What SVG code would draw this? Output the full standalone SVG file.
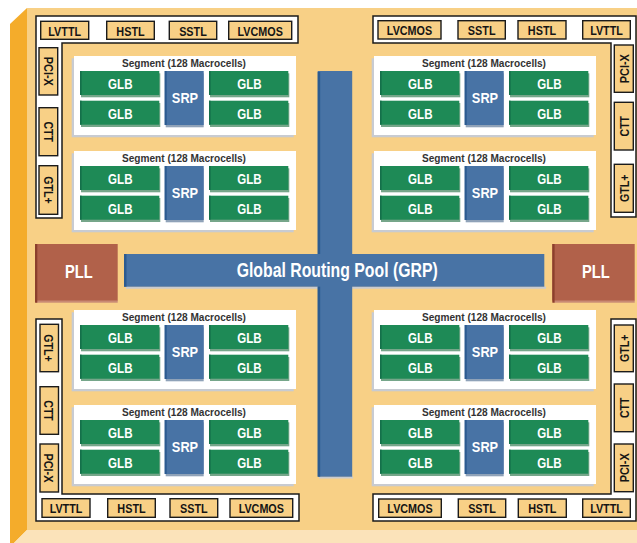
<svg xmlns="http://www.w3.org/2000/svg" xmlns:xlink="http://www.w3.org/1999/xlink" width="637" height="543" viewBox="0 0 637 543">
<style>
.face{fill:#F8D086}
.side{fill:#F4AC2B}
.bot{fill:#FBE3BA}
.io{fill:#fff;stroke:#1b1b1b;stroke-width:1.5}
.iob{fill:#F8D086;stroke:#1b1b1b;stroke-width:1.4}
text{font-family:"Liberation Sans",Arial,sans-serif;font-weight:bold;text-anchor:middle}
.iot{font-size:13.5px;fill:#151515}
.pan{fill:#fff}
.pans{fill:#C8CBD1}
.ttl{font-size:11px;fill:#333}
.glb{fill:#1E8A56}
.glbs{fill:#76A68A}
.glbe{fill:#14704A}
.srp{fill:#4873A5}
.srps{fill:#8FA2B8}
.srpe{fill:#2C5B90}
.wt{fill:#fff}
.gt{font-size:15px}
.st{font-size:15.5px}
.pll{fill:#B1614A}
.plle{fill:#8C3F2C}
.plls{fill:#C98A74}
</style>
<defs>
<g id="panShape"><rect class="pans" x="-2.3" y="2.3" width="222" height="79"/><rect class="pan" width="222" height="79"/></g>
<g id="glbShape"><rect class="glbs" x="1" y="2.3" width="79.3" height="24"/><rect class="glb" width="79.3" height="24"/><rect class="glbe" width="1.6" height="24"/></g>
<g id="srpShape"><rect class="srps" x="1" y="2.3" width="38" height="54"/><rect class="srp" width="39" height="54"/><rect class="srpe" width="2" height="54"/></g>
</defs>

<g id="chip">
<polygon class="side" points="10,24 27,8 27,530 14,543 10,543"/>
<rect class="face" x="27" y="8" width="610" height="522"/>
<polygon class="bot" points="27,530 637,530 637,543 14,543"/>
</g>

<g id="io-top-left">
<path class="io" d="M36,16 H298 V43 H62 V218 H36 Z"/>
<g id="io-tl-lvttl"><rect class="iob" x="40.7" y="21.3" width="48" height="18"/><text class="iot" x="64.7" y="35.6" textLength="32.7" lengthAdjust="spacingAndGlyphs">LVTTL</text></g>
<g id="io-tl-hstl"><rect class="iob" x="106.7" y="21.3" width="47.6" height="18"/><text class="iot" x="130.5" y="35.6" textLength="28.3" lengthAdjust="spacingAndGlyphs">HSTL</text></g>
<g id="io-tl-sstl"><rect class="iob" x="169.3" y="21.3" width="47.4" height="18"/><text class="iot" x="193" y="35.6" textLength="27.7" lengthAdjust="spacingAndGlyphs">SSTL</text></g>
<g id="io-tl-lvcmos"><rect class="iob" x="228.7" y="21.3" width="63" height="18"/><text class="iot" x="260.2" y="35.6" textLength="45.3" lengthAdjust="spacingAndGlyphs">LVCMOS</text></g>
<g id="io-tl-pcix"><rect class="iob" x="39" y="47.7" width="18.7" height="47.3"/><text class="iot" transform="translate(43.5,71.3) rotate(90)" textLength="29" lengthAdjust="spacingAndGlyphs">PCI-X</text></g>
<g id="io-tl-ctt"><rect class="iob" x="39" y="107.7" width="18.7" height="48"/><text class="iot" transform="translate(43.5,131.7) rotate(90)" textLength="20.4" lengthAdjust="spacingAndGlyphs">CTT</text></g>
<g id="io-tl-gtl"><rect class="iob" x="39" y="165.7" width="18.7" height="48.6"/><text class="iot" transform="translate(43.5,190) rotate(90)" textLength="27.5" lengthAdjust="spacingAndGlyphs">GTL+</text></g>
</g>

<g id="io-top-right">
<path class="io" d="M373,16 H636 V217 H611 V43 H373 Z"/>
<g id="io-tr-lvcmos"><rect class="iob" x="378" y="20.7" width="63" height="18.3"/><text class="iot" x="409.5" y="35.3" textLength="45.3" lengthAdjust="spacingAndGlyphs">LVCMOS</text></g>
<g id="io-tr-sstl"><rect class="iob" x="458" y="20.7" width="47.3" height="18.3"/><text class="iot" x="481.7" y="35.3" textLength="27.7" lengthAdjust="spacingAndGlyphs">SSTL</text></g>
<g id="io-tr-hstl"><rect class="iob" x="518" y="20.7" width="48" height="18.3"/><text class="iot" x="542" y="35.3" textLength="28.3" lengthAdjust="spacingAndGlyphs">HSTL</text></g>
<g id="io-tr-lvttl"><rect class="iob" x="582.7" y="20.7" width="47.6" height="18.3"/><text class="iot" x="606.5" y="35.3" textLength="32.7" lengthAdjust="spacingAndGlyphs">LVTTL</text></g>
<g id="io-tr-pcix"><rect class="iob" x="614.3" y="45" width="19" height="47.3"/><text class="iot" transform="translate(628.7,68.7) rotate(-90)" textLength="29" lengthAdjust="spacingAndGlyphs">PCI-X</text></g>
<g id="io-tr-ctt"><rect class="iob" x="614.3" y="102.3" width="19" height="47.7"/><text class="iot" transform="translate(628.7,126.2) rotate(-90)" textLength="20.4" lengthAdjust="spacingAndGlyphs">CTT</text></g>
<g id="io-tr-gtl"><rect class="iob" x="614.3" y="164.3" width="19" height="48"/><text class="iot" transform="translate(628.7,188.3) rotate(-90)" textLength="27.5" lengthAdjust="spacingAndGlyphs">GTL+</text></g>
</g>

<g id="io-bottom-left">
<path class="io" d="M36,319 H62 V494 H299 V521 H36 Z"/>
<g id="io-bl-gtl"><rect class="iob" x="40" y="324.3" width="18.5" height="47.4"/><text class="iot" transform="translate(44.4,348) rotate(90)" textLength="27.5" lengthAdjust="spacingAndGlyphs">GTL+</text></g>
<g id="io-bl-ctt"><rect class="iob" x="40" y="386.7" width="18.5" height="47.6"/><text class="iot" transform="translate(44.4,410.5) rotate(90)" textLength="20.4" lengthAdjust="spacingAndGlyphs">CTT</text></g>
<g id="io-bl-pcix"><rect class="iob" x="40" y="444" width="18.5" height="48"/><text class="iot" transform="translate(44.4,468) rotate(90)" textLength="29" lengthAdjust="spacingAndGlyphs">PCI-X</text></g>
<g id="io-bl-lvttl"><rect class="iob" x="42" y="498.7" width="48" height="18.6"/><text class="iot" x="66" y="513.2" textLength="32.7" lengthAdjust="spacingAndGlyphs">LVTTL</text></g>
<g id="io-bl-hstl"><rect class="iob" x="107.7" y="498.7" width="47.6" height="18.6"/><text class="iot" x="131.5" y="513.2" textLength="28.3" lengthAdjust="spacingAndGlyphs">HSTL</text></g>
<g id="io-bl-sstl"><rect class="iob" x="170" y="498.7" width="47.7" height="18.6"/><text class="iot" x="193.8" y="513.2" textLength="27.7" lengthAdjust="spacingAndGlyphs">SSTL</text></g>
<g id="io-bl-lvcmos"><rect class="iob" x="230" y="498.7" width="62.7" height="18.6"/><text class="iot" x="261.3" y="513.2" textLength="45.3" lengthAdjust="spacingAndGlyphs">LVCMOS</text></g>
</g>

<g id="io-bottom-right">
<path class="io" d="M611,319 H636 V521 H373 V494 H611 Z"/>
<g id="io-br-gtl"><rect class="iob" x="614.3" y="325" width="19" height="46.7"/><text class="iot" transform="translate(628.7,348.3) rotate(-90)" textLength="27.5" lengthAdjust="spacingAndGlyphs">GTL+</text></g>
<g id="io-br-ctt"><rect class="iob" x="614.3" y="384" width="19" height="47.7"/><text class="iot" transform="translate(628.7,407.8) rotate(-90)" textLength="20.4" lengthAdjust="spacingAndGlyphs">CTT</text></g>
<g id="io-br-pcix"><rect class="iob" x="614.3" y="444" width="19" height="47.7"/><text class="iot" transform="translate(628.7,467.8) rotate(-90)" textLength="29" lengthAdjust="spacingAndGlyphs">PCI-X</text></g>
<g id="io-br-lvcmos"><rect class="iob" x="378.7" y="499" width="62.6" height="18.3"/><text class="iot" x="410" y="513.3" textLength="45.3" lengthAdjust="spacingAndGlyphs">LVCMOS</text></g>
<g id="io-br-sstl"><rect class="iob" x="458.3" y="499" width="47.4" height="18.3"/><text class="iot" x="482" y="513.3" textLength="27.7" lengthAdjust="spacingAndGlyphs">SSTL</text></g>
<g id="io-br-hstl"><rect class="iob" x="518.3" y="499" width="48" height="18.3"/><text class="iot" x="542.3" y="513.3" textLength="28.3" lengthAdjust="spacingAndGlyphs">HSTL</text></g>
<g id="io-br-lvttl"><rect class="iob" x="582.7" y="499" width="47.6" height="18.3"/><text class="iot" x="606.5" y="513.3" textLength="32.7" lengthAdjust="spacingAndGlyphs">LVTTL</text></g>
</g>

<g id="grp">
<rect class="pans" x="126" y="286.5" width="420" height="2.2"/>
<rect class="pans" x="319" y="476.5" width="34" height="2"/>
<rect class="srp" x="124" y="254" width="420.3" height="32.7"/>
<rect class="srpe" x="124" y="254" width="2.5" height="32.7"/>
<rect class="srp" x="317.7" y="71" width="34.5" height="405.7"/>
<rect class="srpe" x="317.7" y="72" width="2.5" height="182"/>
<rect class="srpe" x="317.7" y="286.7" width="2.5" height="190"/>
<text class="wt" x="337.2" y="276.7" font-size="19.5" textLength="201" lengthAdjust="spacingAndGlyphs">Global Routing Pool (GRP)</text>
</g>

<g id="pll-left">
<rect class="plls" x="36" y="300" width="81.7" height="2.7"/>
<rect class="pll" x="35" y="244" width="82.7" height="56.5"/>
<rect class="plle" x="35" y="244" width="2.3" height="58.7"/>
<text class="wt" x="78.8" y="278.3" font-size="19" textLength="27.7" lengthAdjust="spacingAndGlyphs">PLL</text>
</g>
<g id="pll-right">
<rect class="plls" x="553.3" y="300" width="81.4" height="2.7"/>
<rect class="pll" x="552.3" y="244" width="82.4" height="56.5"/>
<rect class="plle" x="552.3" y="244" width="2.3" height="58.7"/>
<text class="wt" x="595.8" y="278.3" font-size="19" textLength="27.7" lengthAdjust="spacingAndGlyphs">PLL</text>
</g>

<g id="segment-1" transform="translate(74,56)">
<use href="#panShape"/>
<text class="ttl" x="110" y="10.7" textLength="124" lengthAdjust="spacingAndGlyphs">Segment (128 Macrocells)</text>
<g id="s1-glb1"><use href="#glbShape" x="6" y="15"/><text class="wt gt" x="46.3" y="33" textLength="24.4" lengthAdjust="spacingAndGlyphs">GLB</text></g>
<g id="s1-glb2"><use href="#glbShape" x="6" y="44.7"/><text class="wt gt" x="46.3" y="62.7" textLength="24.4" lengthAdjust="spacingAndGlyphs">GLB</text></g>
<g id="s1-srp"><use href="#srpShape" x="90.7" y="15"/><text class="wt st" x="111" y="46.7" textLength="26.3" lengthAdjust="spacingAndGlyphs">SRP</text></g>
<g id="s1-glb3"><use href="#glbShape" x="135" y="15"/><text class="wt gt" x="175.5" y="33" textLength="24.4" lengthAdjust="spacingAndGlyphs">GLB</text></g>
<g id="s1-glb4"><use href="#glbShape" x="135" y="44.7"/><text class="wt gt" x="175.5" y="62.7" textLength="24.4" lengthAdjust="spacingAndGlyphs">GLB</text></g>
</g>

<g id="segment-2" transform="translate(74,151)">
<use href="#panShape"/>
<text class="ttl" x="110" y="10.7" textLength="124" lengthAdjust="spacingAndGlyphs">Segment (128 Macrocells)</text>
<g id="s2-glb1"><use href="#glbShape" x="6" y="15"/><text class="wt gt" x="46.3" y="33" textLength="24.4" lengthAdjust="spacingAndGlyphs">GLB</text></g>
<g id="s2-glb2"><use href="#glbShape" x="6" y="44.7"/><text class="wt gt" x="46.3" y="62.7" textLength="24.4" lengthAdjust="spacingAndGlyphs">GLB</text></g>
<g id="s2-srp"><use href="#srpShape" x="90.7" y="15"/><text class="wt st" x="111" y="46.7" textLength="26.3" lengthAdjust="spacingAndGlyphs">SRP</text></g>
<g id="s2-glb3"><use href="#glbShape" x="135" y="15"/><text class="wt gt" x="175.5" y="33" textLength="24.4" lengthAdjust="spacingAndGlyphs">GLB</text></g>
<g id="s2-glb4"><use href="#glbShape" x="135" y="44.7"/><text class="wt gt" x="175.5" y="62.7" textLength="24.4" lengthAdjust="spacingAndGlyphs">GLB</text></g>
</g>

<g id="segment-3" transform="translate(74,310)">
<use href="#panShape"/>
<text class="ttl" x="110" y="10.7" textLength="124" lengthAdjust="spacingAndGlyphs">Segment (128 Macrocells)</text>
<g id="s3-glb1"><use href="#glbShape" x="6" y="15"/><text class="wt gt" x="46.3" y="33" textLength="24.4" lengthAdjust="spacingAndGlyphs">GLB</text></g>
<g id="s3-glb2"><use href="#glbShape" x="6" y="44.7"/><text class="wt gt" x="46.3" y="62.7" textLength="24.4" lengthAdjust="spacingAndGlyphs">GLB</text></g>
<g id="s3-srp"><use href="#srpShape" x="90.7" y="15"/><text class="wt st" x="111" y="46.7" textLength="26.3" lengthAdjust="spacingAndGlyphs">SRP</text></g>
<g id="s3-glb3"><use href="#glbShape" x="135" y="15"/><text class="wt gt" x="175.5" y="33" textLength="24.4" lengthAdjust="spacingAndGlyphs">GLB</text></g>
<g id="s3-glb4"><use href="#glbShape" x="135" y="44.7"/><text class="wt gt" x="175.5" y="62.7" textLength="24.4" lengthAdjust="spacingAndGlyphs">GLB</text></g>
</g>

<g id="segment-4" transform="translate(74,405)">
<use href="#panShape"/>
<text class="ttl" x="110" y="10.7" textLength="124" lengthAdjust="spacingAndGlyphs">Segment (128 Macrocells)</text>
<g id="s4-glb1"><use href="#glbShape" x="6" y="15"/><text class="wt gt" x="46.3" y="33" textLength="24.4" lengthAdjust="spacingAndGlyphs">GLB</text></g>
<g id="s4-glb2"><use href="#glbShape" x="6" y="44.7"/><text class="wt gt" x="46.3" y="62.7" textLength="24.4" lengthAdjust="spacingAndGlyphs">GLB</text></g>
<g id="s4-srp"><use href="#srpShape" x="90.7" y="15"/><text class="wt st" x="111" y="46.7" textLength="26.3" lengthAdjust="spacingAndGlyphs">SRP</text></g>
<g id="s4-glb3"><use href="#glbShape" x="135" y="15"/><text class="wt gt" x="175.5" y="33" textLength="24.4" lengthAdjust="spacingAndGlyphs">GLB</text></g>
<g id="s4-glb4"><use href="#glbShape" x="135" y="44.7"/><text class="wt gt" x="175.5" y="62.7" textLength="24.4" lengthAdjust="spacingAndGlyphs">GLB</text></g>
</g>

<g id="segment-5" transform="translate(374,56)">
<use href="#panShape"/>
<text class="ttl" x="110" y="10.7" textLength="124" lengthAdjust="spacingAndGlyphs">Segment (128 Macrocells)</text>
<g id="s5-glb1"><use href="#glbShape" x="6" y="15"/><text class="wt gt" x="46.3" y="33" textLength="24.4" lengthAdjust="spacingAndGlyphs">GLB</text></g>
<g id="s5-glb2"><use href="#glbShape" x="6" y="44.7"/><text class="wt gt" x="46.3" y="62.7" textLength="24.4" lengthAdjust="spacingAndGlyphs">GLB</text></g>
<g id="s5-srp"><use href="#srpShape" x="90.7" y="15"/><text class="wt st" x="111" y="46.7" textLength="26.3" lengthAdjust="spacingAndGlyphs">SRP</text></g>
<g id="s5-glb3"><use href="#glbShape" x="135" y="15"/><text class="wt gt" x="175.5" y="33" textLength="24.4" lengthAdjust="spacingAndGlyphs">GLB</text></g>
<g id="s5-glb4"><use href="#glbShape" x="135" y="44.7"/><text class="wt gt" x="175.5" y="62.7" textLength="24.4" lengthAdjust="spacingAndGlyphs">GLB</text></g>
</g>

<g id="segment-6" transform="translate(374,151)">
<use href="#panShape"/>
<text class="ttl" x="110" y="10.7" textLength="124" lengthAdjust="spacingAndGlyphs">Segment (128 Macrocells)</text>
<g id="s6-glb1"><use href="#glbShape" x="6" y="15"/><text class="wt gt" x="46.3" y="33" textLength="24.4" lengthAdjust="spacingAndGlyphs">GLB</text></g>
<g id="s6-glb2"><use href="#glbShape" x="6" y="44.7"/><text class="wt gt" x="46.3" y="62.7" textLength="24.4" lengthAdjust="spacingAndGlyphs">GLB</text></g>
<g id="s6-srp"><use href="#srpShape" x="90.7" y="15"/><text class="wt st" x="111" y="46.7" textLength="26.3" lengthAdjust="spacingAndGlyphs">SRP</text></g>
<g id="s6-glb3"><use href="#glbShape" x="135" y="15"/><text class="wt gt" x="175.5" y="33" textLength="24.4" lengthAdjust="spacingAndGlyphs">GLB</text></g>
<g id="s6-glb4"><use href="#glbShape" x="135" y="44.7"/><text class="wt gt" x="175.5" y="62.7" textLength="24.4" lengthAdjust="spacingAndGlyphs">GLB</text></g>
</g>

<g id="segment-7" transform="translate(374,310)">
<use href="#panShape"/>
<text class="ttl" x="110" y="10.7" textLength="124" lengthAdjust="spacingAndGlyphs">Segment (128 Macrocells)</text>
<g id="s7-glb1"><use href="#glbShape" x="6" y="15"/><text class="wt gt" x="46.3" y="33" textLength="24.4" lengthAdjust="spacingAndGlyphs">GLB</text></g>
<g id="s7-glb2"><use href="#glbShape" x="6" y="44.7"/><text class="wt gt" x="46.3" y="62.7" textLength="24.4" lengthAdjust="spacingAndGlyphs">GLB</text></g>
<g id="s7-srp"><use href="#srpShape" x="90.7" y="15"/><text class="wt st" x="111" y="46.7" textLength="26.3" lengthAdjust="spacingAndGlyphs">SRP</text></g>
<g id="s7-glb3"><use href="#glbShape" x="135" y="15"/><text class="wt gt" x="175.5" y="33" textLength="24.4" lengthAdjust="spacingAndGlyphs">GLB</text></g>
<g id="s7-glb4"><use href="#glbShape" x="135" y="44.7"/><text class="wt gt" x="175.5" y="62.7" textLength="24.4" lengthAdjust="spacingAndGlyphs">GLB</text></g>
</g>

<g id="segment-8" transform="translate(374,405)">
<use href="#panShape"/>
<text class="ttl" x="110" y="10.7" textLength="124" lengthAdjust="spacingAndGlyphs">Segment (128 Macrocells)</text>
<g id="s8-glb1"><use href="#glbShape" x="6" y="15"/><text class="wt gt" x="46.3" y="33" textLength="24.4" lengthAdjust="spacingAndGlyphs">GLB</text></g>
<g id="s8-glb2"><use href="#glbShape" x="6" y="44.7"/><text class="wt gt" x="46.3" y="62.7" textLength="24.4" lengthAdjust="spacingAndGlyphs">GLB</text></g>
<g id="s8-srp"><use href="#srpShape" x="90.7" y="15"/><text class="wt st" x="111" y="46.7" textLength="26.3" lengthAdjust="spacingAndGlyphs">SRP</text></g>
<g id="s8-glb3"><use href="#glbShape" x="135" y="15"/><text class="wt gt" x="175.5" y="33" textLength="24.4" lengthAdjust="spacingAndGlyphs">GLB</text></g>
<g id="s8-glb4"><use href="#glbShape" x="135" y="44.7"/><text class="wt gt" x="175.5" y="62.7" textLength="24.4" lengthAdjust="spacingAndGlyphs">GLB</text></g>
</g>

<g id="connectors"/>
</svg>
